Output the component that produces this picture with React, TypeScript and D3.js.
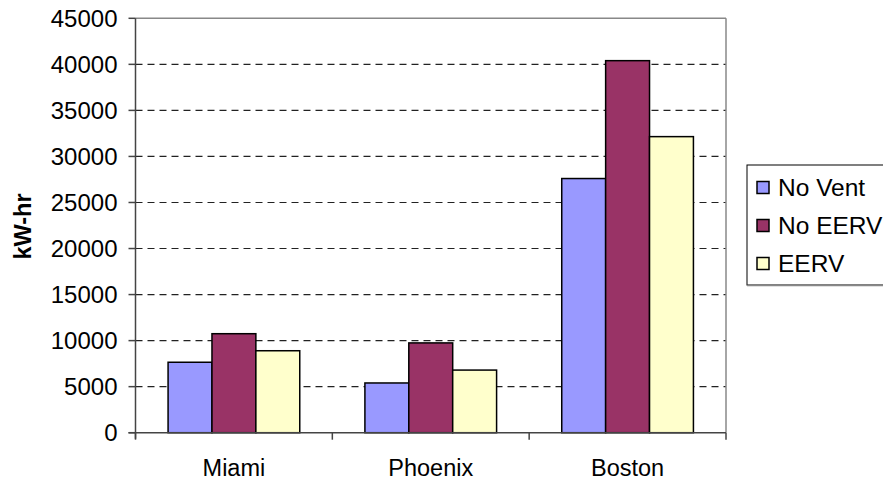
import React from "react";
import * as d3 from "d3";

const categories = ["Miami", "Phoenix", "Boston"];
const seriesNames = ["No Vent", "No EERV", "EERV"];
const noVent = [7650, 5400, 27600];
const noEERV = [10750, 9750, 40400];
const eerv = [8900, 6800, 32150];
const yTicks = [0, 5000, 10000, 15000, 20000, 25000, 30000, 35000, 40000, 45000];
const colors = ["#9999FF", "#993366", "#FFFFCC"];

const W = 883;
const H = 483;
const left = 135.5;
const right = 726;
const top = 18.3;
const bottom = 432.7;
const font = "'Liberation Sans', Arial, sans-serif";

export default function App() {
  const seriesValues = [noVent, noEERV, eerv];
  const y = d3.scaleLinear().domain([0, 45000]).range([bottom, top]);
  const x0 = d3.scaleBand<string>().domain(categories).range([left, right]).padding(0);
  const bw = x0.bandwidth();
  const groupW = bw * 0.669;
  const x1 = d3.scaleBand<string>().domain(seriesNames).range([0, groupW]).padding(0);
  const off = (bw - groupW) / 2;
  const catTicks = [...categories.map((c) => x0(c) as number), right];

  return (
    <svg
      width={W}
      height={H}
      style={{ position: "absolute", left: 0, top: 0, background: "#fff" }}
      fontFamily={font}
    >
      {yTicks.filter((t) => t > 0 && t < 45000).map((t) => (
        <line
          key={"g" + t}
          x1={left}
          x2={right}
          y1={y(t)}
          y2={y(t)}
          stroke="#222"
          strokeWidth={1.2}
          strokeDasharray="7,5"
        />
      ))}
      <line x1={left} x2={right} y1={top} y2={top} stroke="#888" strokeWidth={1.5} />
      <line x1={right} x2={right} y1={top} y2={bottom} stroke="#888" strokeWidth={1.5} />
      {categories.map((c, ci) =>
        seriesNames.map((s, si) => {
          const v = seriesValues[si][ci];
          const bx = (x0(c) as number) + off + (x1(s) as number);
          return (
            <rect
              key={c + s}
              x={bx}
              y={y(v)}
              width={x1.bandwidth()}
              height={y(0) - y(v)}
              fill={colors[si]}
              stroke="#000"
              strokeWidth={1.5}
            />
          );
        })
      )}
      <line x1={left} x2={left} y1={top} y2={bottom + 6} stroke="#444" strokeWidth={1.5} />
      {yTicks.map((t) => (
        <g key={"t" + t}>
          <line x1={left - 7} x2={left} y1={y(t)} y2={y(t)} stroke="#444" strokeWidth={1.5} />
          <text
            x={left - 18}
            y={y(t)}
            textAnchor="end"
            dominantBaseline="central"
            fontSize={24}
            fill="#000"
          >
            {t}
          </text>
        </g>
      ))}
      <line x1={left - 7} x2={right} y1={bottom} y2={bottom} stroke="#444" strokeWidth={1.5} />
      {catTicks.map((tx, i) => (
        <line key={"xt" + i} x1={tx} x2={tx} y1={bottom} y2={bottom + 7} stroke="#444" strokeWidth={1.5} />
      ))}
      {categories.map((c) => (
        <text
          key={"c" + c}
          x={(x0(c) as number) + bw / 2}
          y={476}
          textAnchor="middle"
          fontSize={23.5}
          fill="#000"
        >
          {c}
        </text>
      ))}
      <text
        transform={`translate(31,${226.5}) rotate(-90)`}
        textAnchor="middle"
        fontSize={23.5}
        fontWeight="bold"
        fill="#000"
      >
        kW-hr
      </text>
      <rect x={747} y={165} width={150} height={120} fill="#fff" stroke="#000" strokeWidth={1} />
      <line x1={747} x2={883} y1={285.5} y2={285.5} stroke="#888" strokeWidth={1.5} />
      {seriesNames.map((s, i) => {
        const cy = 187.5 + i * 38;
        return (
          <g key={"l" + s}>
            <rect x={757} y={cy - 6} width={12} height={12} fill={colors[i]} stroke="#000" strokeWidth={1.5} />
            <text x={778} y={cy} dominantBaseline="central" fontSize={24.5} fill="#000">
              {s}
            </text>
          </g>
        );
      })}
    </svg>
  );
}
